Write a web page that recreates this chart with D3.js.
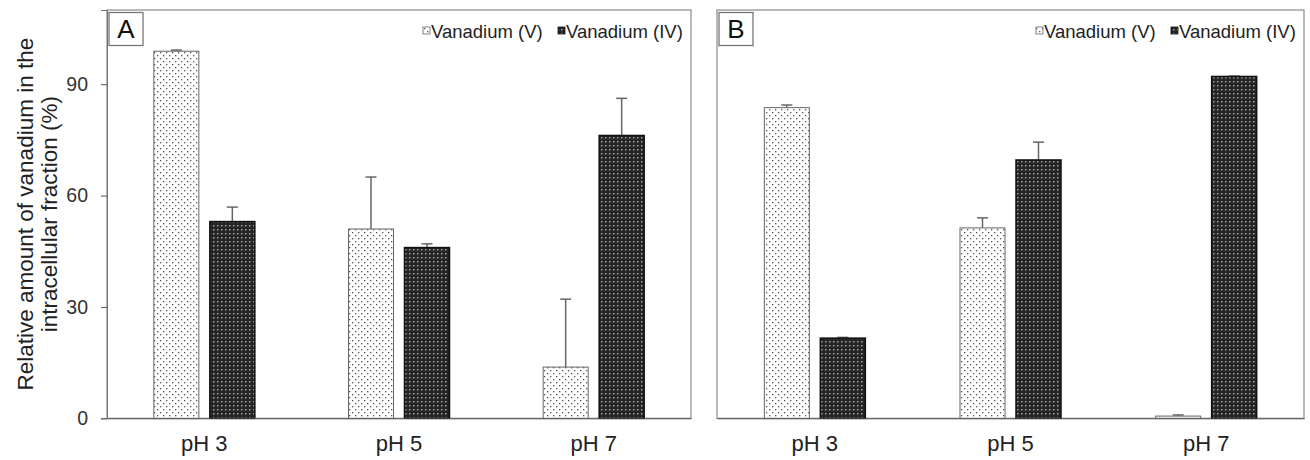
<!DOCTYPE html>
<html>
<head>
<meta charset="utf-8">
<script src="https://cdn.jsdelivr.net/npm/d3@7"></script>
<style>
  body { margin: 0; background: #fff; }
  svg { font-family: "Liberation Sans", Arial, sans-serif; }
</style>
</head>
<body>
<svg id="chart" width="1310" height="460"></svg>
<script>
var categories = ["pH 3", "pH 5", "pH 7"];
var series = ["Vanadium (V)", "Vanadium (IV)"];
var yTicks = [0, 30, 60, 90];

// panel A
var aV = [98.9, 51, 13.8];
var aVerr = [0.3, 14, 18.3];
var aIV = [53, 46, 76.2];
var aIVerr = [3.9, 1, 10];

// panel B
var bV = [83.7, 51.3, 0.6];
var bVerr = [0.7, 2.7, 0.3];
var bIV = [21.6, 69.6, 92.1];
var bIVerr = [0.2, 4.8, 0.1];

var svg = d3.select("#chart");
var plotTop = 10, plotBottom = 418.3;

var defs = svg.append("defs");
// dotted pattern for V
var pv = defs.append("pattern").attr("id", "patV")
  .attr("patternUnits", "userSpaceOnUse").attr("width", 6).attr("height", 6);
pv.append("rect").attr("width", 6).attr("height", 6).attr("fill", "#fff");
pv.append("rect").attr("x", 1).attr("y", 1).attr("width", 1.3).attr("height", 1.3).attr("fill", "#555");
pv.append("rect").attr("x", 4).attr("y", 4).attr("width", 1.3).attr("height", 1.3).attr("fill", "#555");
// dark dotted pattern for IV
var piv = defs.append("pattern").attr("id", "patIV")
  .attr("patternUnits", "userSpaceOnUse").attr("width", 4).attr("height", 4);
piv.append("rect").attr("width", 4).attr("height", 4).attr("fill", "#262626");
piv.append("rect").attr("x", 1).attr("y", 1).attr("width", 1.5).attr("height", 1.5).attr("fill", "#a0a0a0");

var y = d3.scaleLinear().domain([0, 110]).range([plotBottom, plotTop]);

function panel(left, right, label, vals, errs, showAxis) {
  var g = svg.append("g");
  var x0 = d3.scaleBand().domain(categories).range([left, right]);
  var bw = x0.bandwidth();
  var x1 = d3.scaleBand().domain(series)
    .range([bw / 2 - 50.5, bw / 2 + 50.5]).paddingInner(0.196);

  // frame
  g.append("rect")
    .attr("x", left).attr("y", plotTop)
    .attr("width", right - left).attr("height", plotBottom - plotTop)
    .attr("fill", "none").attr("stroke", "#8a8a8a").attr("stroke-width", 1.2);

  var rows = [];
  categories.forEach(function(c, i) {
    series.forEach(function(s, j) {
      rows.push({ cat: c, s: s, v: vals[j][i], e: errs[j][i] });
    });
  });

  // error bars (upward only)
  g.selectAll(".err").data(rows).enter().append("line")
    .attr("x1", function(d) { return x0(d.cat) + x1(d.s) + x1.bandwidth() / 2; })
    .attr("x2", function(d) { return x0(d.cat) + x1(d.s) + x1.bandwidth() / 2; })
    .attr("y1", function(d) { return y(d.v); })
    .attr("y2", function(d) { return y(d.v + d.e); })
    .attr("stroke", "#666").attr("stroke-width", 1.5);
  g.selectAll(".cap").data(rows).enter().append("line")
    .attr("x1", function(d) { return x0(d.cat) + x1(d.s) + x1.bandwidth() / 2 - 5.5; })
    .attr("x2", function(d) { return x0(d.cat) + x1(d.s) + x1.bandwidth() / 2 + 5.5; })
    .attr("y1", function(d) { return y(d.v + d.e); })
    .attr("y2", function(d) { return y(d.v + d.e); })
    .attr("stroke", "#666").attr("stroke-width", 1.5);

  // bars
  g.selectAll(".bar").data(rows).enter().append("rect")
    .attr("x", function(d) { return x0(d.cat) + x1(d.s); })
    .attr("y", function(d) { return y(d.v); })
    .attr("width", x1.bandwidth())
    .attr("height", function(d) { return y(0) - y(d.v); })
    .attr("fill", function(d) { return d.s === series[0] ? "url(#patV)" : "url(#patIV)"; })
    .attr("stroke", function(d) { return d.s === series[0] ? "#666" : "#111"; })
    .attr("stroke-width", function(d) { return d.s === series[0] ? 1 : 1.5; });

  // x labels
  var xAxis = d3.axisBottom(x0).tickSize(0).tickPadding(17);
  var xa = g.append("g").attr("transform", "translate(0," + plotBottom + ")").call(xAxis);
  xa.select(".domain").attr("stroke", "#555");
  xa.selectAll("text").attr("font-size", 22).attr("fill", "#222")
    .attr("font-family", "Liberation Sans, Arial, sans-serif");

  if (showAxis) {
    var ya = g.append("g").attr("transform", "translate(" + left + ",0)")
      .call(d3.axisLeft(y).tickValues(yTicks).tickSize(6).tickPadding(13));
    ya.select(".domain").attr("stroke", "#777");
    ya.selectAll(".tick line").attr("stroke", "#555");
    ya.selectAll("text").attr("font-size", 19.5).attr("fill", "#333")
      .attr("font-family", "Liberation Sans, Arial, sans-serif");
  }

  // panel label
  g.append("rect").attr("x", left + 2).attr("y", plotTop + 2.5)
    .attr("width", 34).attr("height", 33)
    .attr("fill", "#fff").attr("stroke", "#777").attr("stroke-width", 1.3);
  g.append("text").attr("x", left + 19).attr("y", plotTop + 28)
    .attr("text-anchor", "middle").attr("font-size", 26).attr("fill", "#111")
    .text(label);

  // legend
  var lx = right - 268;
  var items = [
    { s: series[0], x: lx, fill: "url(#patV)", stroke: "#666" },
    { s: series[1], x: lx + 135, fill: "url(#patIV)", stroke: "#111" }
  ];
  var lg = g.selectAll(".leg").data(items).enter().append("g");
  lg.append("rect").attr("x", function(d) { return d.x; }).attr("y", plotTop + 17)
    .attr("width", 7).attr("height", 7)
    .attr("fill", function(d) { return d.fill; })
    .attr("stroke", function(d) { return d.stroke; }).attr("stroke-width", 0.8);
  lg.append("text").attr("x", function(d) { return d.x + 8; }).attr("y", plotTop + 28)
    .attr("font-size", 18.5).attr("fill", "#222")
    .text(function(d) { return d.s; });
}

panel(107, 691, "A", [aV, aIV], [aVerr, aIVerr], true);
panel(717, 1304, "B", [bV, bIV], [bVerr, bIVerr], false);

// y title
var yt = svg.append("text")
  .attr("transform", "translate(33," + (plotTop + plotBottom) / 2 + ") rotate(-90)")
  .attr("text-anchor", "middle").attr("font-size", 22.5).attr("fill", "#222");
yt.append("tspan").attr("x", 0).attr("dy", 0).text("Relative amount of vanadium in the");
yt.append("tspan").attr("x", 0).attr("dy", 24).text("intracellular fraction (%)");
</script>
</body>
</html>
